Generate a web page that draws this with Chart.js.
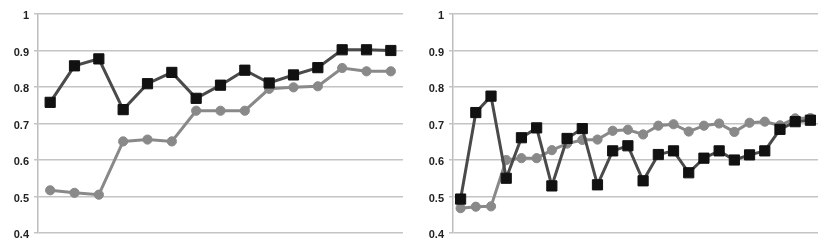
<!DOCTYPE html>
<html>
<head>
<meta charset="utf-8">
<script src="https://cdn.jsdelivr.net/npm/chart.js@4/dist/chart.umd.min.js"></script>
<style>
  html, body { margin: 0; padding: 0; background: #fff; }
  body { width: 830px; height: 251px; position: relative; overflow: hidden; }
  .box { position: absolute; top: 0; width: 415px; height: 251px; }
  #b1 { left: 0; }
  #b2 { left: 415px; }
</style>
</head>
<body>
<div class="box" id="b1"><canvas id="c1" width="415" height="251"></canvas></div>
<div class="box" id="b2"><canvas id="c2" width="415" height="251"></canvas></div>
<script>
// ---- data ----
const leftCategories = ['1','2','3','4','5','6','7','8','9','10','11','12','13','14','15'];
const leftDark = [0.758, 0.858, 0.877, 0.738, 0.809, 0.840, 0.769, 0.805, 0.846, 0.811, 0.833, 0.853, 0.902, 0.902, 0.900];
const leftGray = [0.517, 0.510, 0.505, 0.651, 0.656, 0.651, 0.735, 0.735, 0.735, 0.795, 0.799, 0.802, 0.852, 0.843, 0.843];

const rightCategories = ['1','2','3','4','5','6','7','8','9','10','11','12','13','14','15','16','17','18','19','20','21','22','23','24'];
const rightDark = [0.493, 0.730, 0.775, 0.550, 0.661, 0.688, 0.529, 0.659, 0.686, 0.532, 0.625, 0.639, 0.543, 0.615, 0.625, 0.565, 0.605, 0.625, 0.600, 0.614, 0.625, 0.684, 0.705, 0.709];
const rightGray = [0.468, 0.472, 0.473, 0.600, 0.605, 0.605, 0.627, 0.645, 0.655, 0.656, 0.680, 0.683, 0.670, 0.694, 0.698, 0.678, 0.694, 0.700, 0.677, 0.702, 0.705, 0.695, 0.714, 0.715];

const yMin = 0.4, yMax = 1, yStep = 0.1;

function makeChart(id, categories, dark, gray) {
  return new Chart(document.getElementById(id), {
    type: 'line',
    data: {
      labels: categories,
      datasets: [
        {
          data: dark,
          borderColor: '#4a4a4a',
          borderWidth: 3,
          pointStyle: 'rect',
          pointRadius: 7.2,
          pointBackgroundColor: '#111111',
          pointBorderColor: '#111111',
          pointBorderWidth: 1,
          tension: 0
        },
        {
          data: gray,
          borderColor: '#898989',
          borderWidth: 3,
          pointStyle: 'circle',
          pointRadius: 4.6,
          pointBackgroundColor: '#898989',
          pointBorderColor: '#898989',
          pointBorderWidth: 1,
          tension: 0
        }
      ]
    },
    options: {
      responsive: false,
      animation: false,
      events: [],
      layout: { padding: { left: 0, right: 12, top: 14, bottom: 18 } },
      plugins: { legend: { display: false }, tooltip: { enabled: false } },
      scales: {
        x: { display: false, offset: true },
        y: {
          min: yMin, max: yMax,
          afterFit: (s) => { s.width = 38; },
          border: { display: true, color: '#bdbdbd', width: 1.5 },
          grid: { color: '#c4c4c4', lineWidth: 1.5, drawTicks: true, tickLength: 4, tickColor: '#c4c4c4' },
          ticks: {
            stepSize: yStep,
            padding: 5,
            labelOffset: 2,
            color: '#222222',
            font: { family: 'Liberation Sans', size: 11, weight: 'bold' },
            callback: (v) => String(+v.toFixed(1))
          }
        }
      }
    }
  });
}

makeChart('c1', leftCategories, leftDark, leftGray);
makeChart('c2', rightCategories, rightDark, rightGray);
</script>
</body>
</html>
